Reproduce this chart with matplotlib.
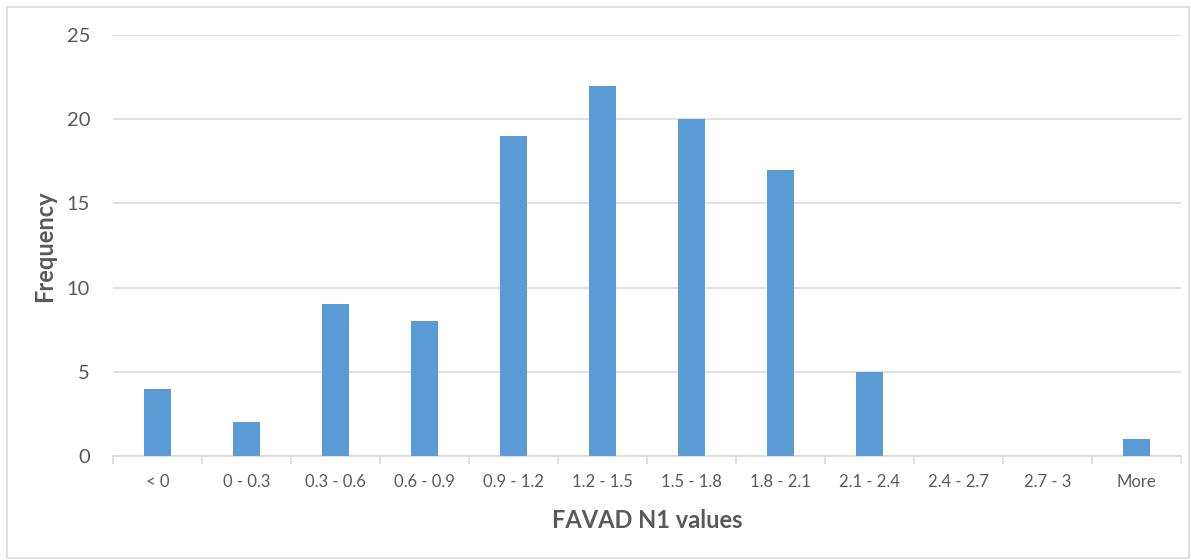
import numpy as np
import matplotlib.pyplot as plt
from matplotlib.patches import Rectangle

plt.rcParams['font.family'] = ['Lato', 'DejaVu Sans']

# Histogram of FAVAD N1 exponents
bins = ['< 0', '0 - 0.3', '0.3 - 0.6', '0.6 - 0.9', '0.9 - 1.2', '1.2 - 1.5',
        '1.5 - 1.8', '1.8 - 2.1', '2.1 - 2.4', '2.4 - 2.7', '2.7 - 3', 'More']
frecuencia = [4, 2, 9, 8, 19, 22, 20, 17, 5, 0, 0, 1]

gris = '#595959'
azul = '#5B9BD5'

fig = plt.figure(figsize=(11.91, 5.6), dpi=100)
ax = fig.add_axes([113/1191, 1 - 456/560, 1068/1191, 421/560])

x = np.arange(len(bins))
ax.bar(x, frecuencia, width=0.31, color=azul, zorder=3)

ax.set_xlim(-0.5, len(bins) - 0.5)
ax.set_ylim(0, 25)
ax.set_yticks(range(0, 26, 5))
ax.grid(axis='y', color='#D9D9D9', linewidth=1.2, zorder=0)

ax.set_xticks(x)
ax.set_xticklabels(bins)
ax.set_xticks(np.arange(-0.5, len(bins), 1), minor=True)
ax.tick_params(axis='x', which='major', length=0, labelsize=12, labelcolor=gris, pad=13)
ax.tick_params(axis='x', which='minor', length=6, width=1.2, color='#D9D9D9', direction='out')
ax.tick_params(axis='y', length=0, labelsize=14.5, labelcolor=gris, pad=16.5)

for lado in ['top', 'right', 'left']:
    ax.spines[lado].set_visible(False)
ax.spines['bottom'].set_color('#D9D9D9')
ax.spines['bottom'].set_linewidth(1.2)

ax.set_xlabel('FAVAD N1 values', fontsize=17, fontweight='bold', color=gris, labelpad=14)
fig.text(45/1191, 1 - 246/560, 'Frequency', rotation=90, fontsize=17, fontweight='bold',
         color=gris, ha='center', va='center')

# marco del gráfico
fig.patches.append(Rectangle((7/1191, 2/560), 1182/1191, 551/560, transform=fig.transFigure,
                             fill=False, edgecolor='#D9D9D9', linewidth=1.2))

fig.savefig('out.png', dpi=100)
